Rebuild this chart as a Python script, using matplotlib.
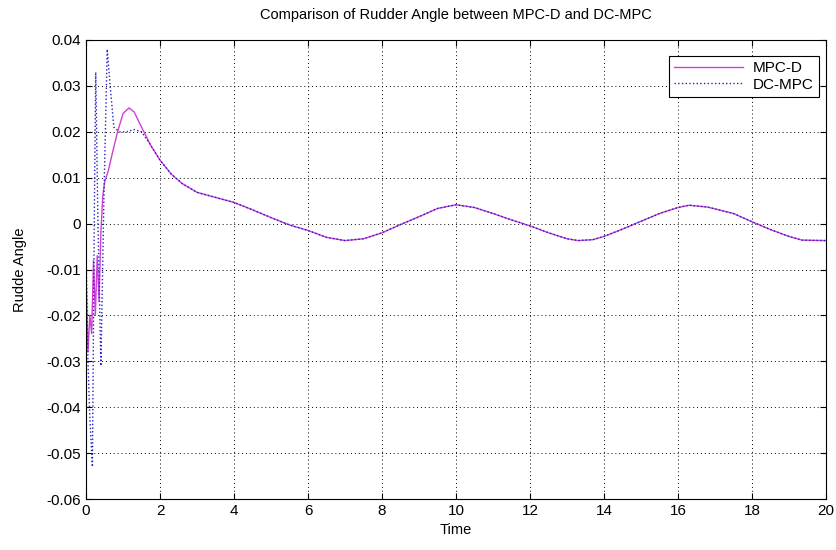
import matplotlib
matplotlib.use("Agg")
import matplotlib.pyplot as plt

plt.rcParams['font.family'] = ['Liberation Sans', 'DejaVu Sans']

# MPC-D rudder angle
t_mpcd = [0.0, 0.05, 0.1, 0.15, 0.2, 0.25, 0.3, 0.35, 0.4, 0.45, 0.5, 0.6, 0.7,
          0.85, 1.0, 1.16, 1.3, 1.5, 1.75, 2.0, 2.3, 2.6, 3.0, 3.5, 4.0, 4.5,
          5.0, 5.5, 6.0, 6.5, 7.0, 7.5, 8.0, 8.5, 9.0, 9.5, 10.0, 10.5, 11.0,
          11.5, 12.0, 12.5, 13.0, 13.3, 13.7, 14.0, 14.5, 15.0, 15.5, 16.0,
          16.3, 16.8, 17.5, 18.0, 18.5, 19.0, 19.35, 20.0]
mpcd = [-0.012, -0.028, -0.02, -0.024, -0.008, -0.02, -0.007, -0.017, -0.002,
        0.006, 0.009, 0.0115, 0.015, 0.02, 0.024, 0.0252, 0.0243, 0.021,
        0.017, 0.0138, 0.0108, 0.0087, 0.0068, 0.0057, 0.0046, 0.003, 0.0013,
        -0.0003, -0.0015, -0.003, -0.0037, -0.0033, -0.002, -0.0002, 0.0015,
        0.0033, 0.0041, 0.0035, 0.0022, 0.0008, -0.0005, -0.002, -0.0033,
        -0.0037, -0.0035, -0.0028, -0.0012, 0.0005, 0.0022, 0.0035, 0.004,
        0.0036, 0.0022, 0.0004, -0.0013, -0.0028, -0.0036, -0.0037]

# DC-MPC rudder angle: strong early oscillation, then follows MPC-D
t_dcmpc = [0.0, 0.05, 0.1, 0.17, 0.22, 0.26, 0.32, 0.4, 0.48, 0.57, 0.65, 0.75,
           0.9, 1.1, 1.3, 1.5, 1.75, 2.0, 2.3, 2.6, 3.0, 3.5, 4.0, 4.5, 5.0,
           5.5, 6.0, 6.5, 7.0, 7.5, 8.0, 8.5, 9.0, 9.5, 10.0, 10.5, 11.0, 11.5,
           12.0, 12.5, 13.0, 13.3, 13.7, 14.0, 14.5, 15.0, 15.5, 16.0, 16.3,
           16.8, 17.5, 18.0, 18.5, 19.0, 19.35, 20.0]
dcmpc = [-0.006, -0.03, -0.042, -0.053, 0.0, 0.033, 0.0, -0.031, 0.005, 0.038,
         0.03, 0.021, 0.02, 0.02, 0.0205, 0.02, 0.017, 0.0138, 0.0108, 0.0087,
         0.0068, 0.0057, 0.0046, 0.003, 0.0013, -0.0003, -0.0015, -0.003,
         -0.0037, -0.0033, -0.002, -0.0002, 0.0015, 0.0033, 0.0041, 0.0035,
         0.0022, 0.0008, -0.0005, -0.002, -0.0033, -0.0037, -0.0035, -0.0028,
         -0.0012, 0.0005, 0.0022, 0.0035, 0.004, 0.0036, 0.0022, 0.0004,
         -0.0013, -0.0028, -0.0036, -0.0037]

xticks = list(range(0, 21, 2))
yticks = [-0.06, -0.05, -0.04, -0.03, -0.02, -0.01, 0, 0.01, 0.02, 0.03, 0.04]
yticklabels = ['-0.06', '-0.05', '-0.04', '-0.03', '-0.02', '-0.01', '0',
               '0.01', '0.02', '0.03', '0.04']

fig = plt.figure(figsize=(8.36, 5.5), dpi=100)
ax = fig.add_axes([0.103, 0.0927, 0.885, 0.8346])

ax.plot(t_mpcd, mpcd, color='#d040d8', linewidth=1.0, label='MPC-D')
ax.plot(t_dcmpc, dcmpc, color='#2020c0', linestyle=':', linewidth=1.0,
        label='DC-MPC')

ax.set_xlim(0, 20)
ax.set_ylim(-0.06, 0.04)
ax.set_xticks(xticks)
ax.set_yticks(yticks)
ax.set_yticklabels(yticklabels)
ax.tick_params(direction='in', length=4, labelsize=11, top=True, right=True)
ax.grid(True, linestyle=(0, (1, 3)), color='black', linewidth=0.7)

ax.set_title('Comparison of Rudder Angle between MPC-D and DC-MPC',
             fontsize=10.5, pad=15)
ax.set_xlabel('Time', fontsize=10.5, labelpad=4)
ax.set_ylabel('Rudde Angle', fontsize=10.5, labelpad=14)

leg = ax.legend(loc='upper right', bbox_to_anchor=(0.99, 0.965), fontsize=11,
                frameon=True, fancybox=False, edgecolor='black',
                framealpha=1, handlelength=4.5, borderpad=0.35,
                handletextpad=0.6, labelspacing=0.15, borderaxespad=0)
leg.get_frame().set_linewidth(0.8)

fig.savefig('out.png', dpi=100)
